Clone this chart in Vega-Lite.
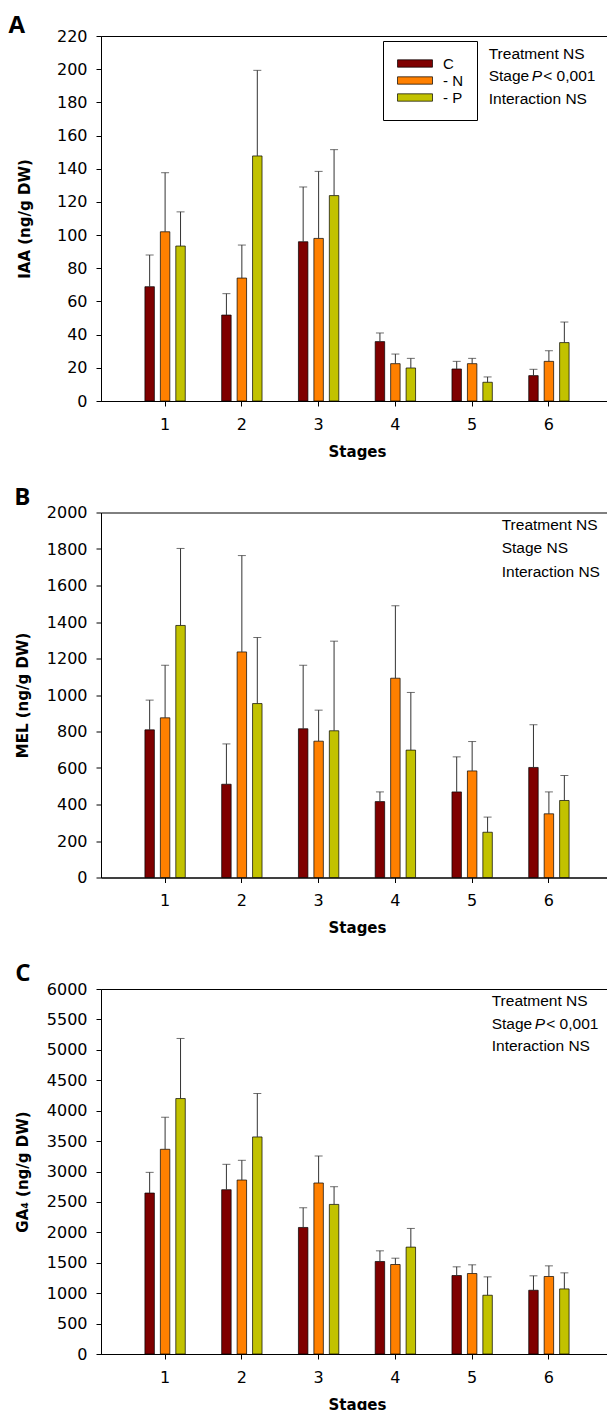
{
  "$schema": "https://vega.github.io/schema/vega-lite/v6.json",
  "background": "white",
  "padding": {"left": 7, "top": 13, "right": 0, "bottom": 0},
  "spacing": 24.5,
  "config": {
    "view": {"stroke": "black", "strokeWidth": 1},
    "axis": {
      "domainColor": "black", "tickColor": "black", "labelColor": "black", "titleColor": "black",
      "grid": false, "labelFont": "DejaVu Sans", "labelFontSize": 16, "labelOverlap": false, "labelFlush": false,
      "titleFont": "DejaVu Sans", "titleFontSize": 15, "titleFontWeight": "bold",
      "tickSize": 5, "labelPadding": 9, "domainWidth": 1, "tickWidth": 1
    },
    "axisX": {"labelAngle": 0, "labelPadding": 10, "titlePadding": 12},
    "title": {"font": "Open Sans", "fontSize": 24, "fontWeight": "bold", "color": "black", "anchor": "start", "frame": "bounds"}
  },
  "resolve": {"legend": {"color": "independent"}},
  "datasets": {
    "iaa": [
      {"stage": "1", "treatment": "C", "value": 68.9, "upper": 88},
      {"stage": "1", "treatment": "- N", "value": 102, "upper": 137.6},
      {"stage": "1", "treatment": "- P", "value": 93.4, "upper": 114},
      {"stage": "2", "treatment": "C", "value": 51.8, "upper": 64.7},
      {"stage": "2", "treatment": "- N", "value": 74.1, "upper": 94},
      {"stage": "2", "treatment": "- P", "value": 147.7, "upper": 199.3},
      {"stage": "3", "treatment": "C", "value": 96, "upper": 129},
      {"stage": "3", "treatment": "- N", "value": 98, "upper": 138.4},
      {"stage": "3", "treatment": "- P", "value": 123.8, "upper": 151.5},
      {"stage": "4", "treatment": "C", "value": 35.8, "upper": 41},
      {"stage": "4", "treatment": "- N", "value": 22.5, "upper": 28.3},
      {"stage": "4", "treatment": "- P", "value": 19.9, "upper": 25.7},
      {"stage": "5", "treatment": "C", "value": 19.3, "upper": 23.9},
      {"stage": "5", "treatment": "- N", "value": 22.5, "upper": 25.7},
      {"stage": "5", "treatment": "- P", "value": 11.3, "upper": 14.5},
      {"stage": "6", "treatment": "C", "value": 15.3, "upper": 19.1},
      {"stage": "6", "treatment": "- N", "value": 23.9, "upper": 30.3},
      {"stage": "6", "treatment": "- P", "value": 35.2, "upper": 47.6}
    ],
    "mel": [
      {"stage": "1", "treatment": "C", "value": 809, "upper": 972},
      {"stage": "1", "treatment": "- N", "value": 875, "upper": 1163},
      {"stage": "1", "treatment": "- P", "value": 1381, "upper": 1803},
      {"stage": "2", "treatment": "C", "value": 511, "upper": 732},
      {"stage": "2", "treatment": "- N", "value": 1236, "upper": 1764},
      {"stage": "2", "treatment": "- P", "value": 953, "upper": 1315},
      {"stage": "3", "treatment": "C", "value": 815, "upper": 1163},
      {"stage": "3", "treatment": "- N", "value": 747, "upper": 917},
      {"stage": "3", "treatment": "- P", "value": 804, "upper": 1295},
      {"stage": "4", "treatment": "C", "value": 416, "upper": 469},
      {"stage": "4", "treatment": "- N", "value": 1092, "upper": 1489},
      {"stage": "4", "treatment": "- P", "value": 698, "upper": 1014},
      {"stage": "5", "treatment": "C", "value": 469, "upper": 661},
      {"stage": "5", "treatment": "- N", "value": 584, "upper": 745},
      {"stage": "5", "treatment": "- P", "value": 248, "upper": 331},
      {"stage": "6", "treatment": "C", "value": 603, "upper": 837},
      {"stage": "6", "treatment": "- N", "value": 349, "upper": 469},
      {"stage": "6", "treatment": "- P", "value": 422, "upper": 559}
    ],
    "ga": [
      {"stage": "1", "treatment": "C", "value": 2646, "upper": 2986},
      {"stage": "1", "treatment": "- N", "value": 3365, "upper": 3892},
      {"stage": "1", "treatment": "- P", "value": 4199, "upper": 5187},
      {"stage": "2", "treatment": "C", "value": 2701, "upper": 3118},
      {"stage": "2", "treatment": "- N", "value": 2860, "upper": 3184},
      {"stage": "2", "treatment": "- P", "value": 3568, "upper": 4282},
      {"stage": "3", "treatment": "C", "value": 2080, "upper": 2404},
      {"stage": "3", "treatment": "- N", "value": 2811, "upper": 3255},
      {"stage": "3", "treatment": "- P", "value": 2459, "upper": 2750},
      {"stage": "4", "treatment": "C", "value": 1521, "upper": 1696},
      {"stage": "4", "treatment": "- N", "value": 1471, "upper": 1575},
      {"stage": "4", "treatment": "- P", "value": 1757, "upper": 2064},
      {"stage": "5", "treatment": "C", "value": 1290, "upper": 1433},
      {"stage": "5", "treatment": "- N", "value": 1323, "upper": 1466},
      {"stage": "5", "treatment": "- P", "value": 966, "upper": 1268},
      {"stage": "6", "treatment": "C", "value": 1048, "upper": 1285},
      {"stage": "6", "treatment": "- N", "value": 1274, "upper": 1449},
      {"stage": "6", "treatment": "- P", "value": 1070, "upper": 1334}
    ]
  },
  "vconcat": [
    {
      "width": 512, "height": 365,
      "title": {"text": "A", "dx": -9, "offset": -10},
      "resolve": {"scale": {"y": "independent"}},
      "layer": [
        {
          "data": {"name": "iaa"},
          "encoding": {
            "x": {"field": "stage", "type": "nominal", "scale": {"paddingInner": 0.396, "paddingOuter": 0.533}, "axis": {"title": "Stages"}},
            "xOffset": {"field": "treatment", "type": "nominal", "scale": {"domain": ["C", "- N", "- P"], "paddingInner": 0.387, "paddingOuter": 0.194}}
          },
          "layer": [
            {
              "mark": {"type": "bar", "stroke": "black", "strokeWidth": 0.7},
              "encoding": {
                "y": {"field": "value", "type": "quantitative", "scale": {"domain": [0, 220], "nice": false}, "axis": {"title": "IAA (ng/g DW)", "format": "d", "values": [0, 20, 40, 60, 80, 100, 120, 140, 160, 180, 200, 220], "labelOverlap": false, "titlePadding": 24}},
                "color": {"field": "treatment", "type": "nominal", "scale": {"domain": ["C", "- N", "- P"], "range": ["#7F0000", "#FF8000", "#C2C200"]},
                  "legend": {"title": null, "orient": "none", "legendX": 282, "legendY": 5, "strokeColor": "black", "fillColor": "white", "padding": 14,
                    "symbolType": "M-1,-0.21H1V0.21H-1Z", "symbolSize": 1225, "symbolStrokeColor": "black", "symbolStrokeWidth": 0.7, "symbolOpacity": 1,
                    "clipHeight": 17, "rowPadding": 0, "labelOffset": 10, "labelFont": "Liberation Sans", "labelFontSize": 15, "labelColor": "black"}}
              }
            },
            {
              "mark": {"type": "rule", "color": "#333333", "strokeWidth": 1},
              "encoding": {"y": {"field": "value", "type": "quantitative", "axis": {"values": [0, 20, 40, 60, 80, 100, 120, 140, 160, 180, 200, 220], "labelOverlap": false}}, "y2": {"field": "upper"}}
            },
            {
              "mark": {"type": "tick", "color": "#333333", "size": 8, "thickness": 1},
              "encoding": {"y": {"field": "upper", "type": "quantitative", "axis": {"values": [0, 20, 40, 60, 80, 100, 120, 140, 160, 180, 200, 220], "labelOverlap": false}}}
            }
          ]
        },
        {
          "encoding": {
            "x": {"datum": "6", "type": "nominal", "bandPosition": 0},
            "y": {"field": "line", "type": "ordinal", "scale": {"type": "point", "domain": ["1", "2", "3"], "range": [22.5, 67.5], "padding": 0}, "axis": null},
            "text": {"field": "t"}
          },
          "layer": [
            {
              "data": {"values": [{"line": "1", "t": "Treatment NS"}, {"line": "2", "t": "Stage"}, {"line": "3", "t": "Interaction NS"}]},
              "mark": {"type": "text", "align": "left", "baseline": "alphabetic", "font": "Liberation Sans", "fontSize": 15.5, "color": "black", "dx": -37}
            },
            {
              "data": {"values": [{"line": "2", "t": "P"}]},
              "mark": {"type": "text", "align": "left", "baseline": "alphabetic", "font": "Liberation Sans", "fontSize": 15.5, "fontStyle": "italic", "color": "black", "dx": 6}
            },
            {
              "data": {"values": [{"line": "2", "t": "< 0,001"}]},
              "mark": {"type": "text", "align": "left", "baseline": "alphabetic", "font": "Liberation Sans", "fontSize": 15.5, "color": "black", "dx": 17.5}
            }
          ]
        }
      ]
    },
    {
      "width": 512, "height": 365,
      "title": {"text": "B", "dx": -1, "offset": -5.3},
      "resolve": {"scale": {"y": "independent"}},
      "layer": [
        {
          "data": {"name": "mel"},
          "encoding": {
            "x": {"field": "stage", "type": "nominal", "scale": {"paddingInner": 0.396, "paddingOuter": 0.533}, "axis": {"title": "Stages"}},
            "xOffset": {"field": "treatment", "type": "nominal", "scale": {"domain": ["C", "- N", "- P"], "paddingInner": 0.387, "paddingOuter": 0.194}}
          },
          "layer": [
            {
              "mark": {"type": "bar", "stroke": "black", "strokeWidth": 0.7},
              "encoding": {
                "y": {"field": "value", "type": "quantitative", "scale": {"domain": [0, 2000], "nice": false}, "axis": {"title": "MEL (ng/g DW)", "format": "d", "values": [0, 200, 400, 600, 800, 1000, 1200, 1400, 1600, 1800, 2000], "labelOverlap": false, "titlePadding": 16}},
                "color": {"field": "treatment", "type": "nominal", "scale": {"domain": ["C", "- N", "- P"], "range": ["#7F0000", "#FF8000", "#C2C200"]}, "legend": null}
              }
            },
            {
              "mark": {"type": "rule", "color": "#333333", "strokeWidth": 1},
              "encoding": {"y": {"field": "value", "type": "quantitative", "axis": {"values": [0, 200, 400, 600, 800, 1000, 1200, 1400, 1600, 1800, 2000], "labelOverlap": false}}, "y2": {"field": "upper"}}
            },
            {
              "mark": {"type": "tick", "color": "#333333", "size": 8, "thickness": 1},
              "encoding": {"y": {"field": "upper", "type": "quantitative", "axis": {"values": [0, 200, 400, 600, 800, 1000, 1200, 1400, 1600, 1800, 2000], "labelOverlap": false}}}
            }
          ]
        },
        {
          "data": {"values": [{"line": "1", "t": "Treatment NS"}, {"line": "2", "t": "Stage NS"}, {"line": "3", "t": "Interaction NS"}]},
          "mark": {"type": "text", "align": "left", "baseline": "alphabetic", "font": "Liberation Sans", "fontSize": 15.5, "color": "black", "dx": -24},
          "encoding": {
            "x": {"datum": "6", "type": "nominal", "bandPosition": 0},
            "y": {"field": "line", "type": "ordinal", "scale": {"type": "point", "domain": ["1", "2", "3"], "range": [17.5, 64], "padding": 0}, "axis": null},
            "text": {"field": "t"}
          }
        }
      ]
    },
    {
      "width": 512, "height": 365,
      "title": {"text": "C", "dx": 0, "offset": -5.3},
      "resolve": {"scale": {"y": "independent"}},
      "layer": [
        {
          "data": {"name": "ga"},
          "encoding": {
            "x": {"field": "stage", "type": "nominal", "scale": {"paddingInner": 0.396, "paddingOuter": 0.533}, "axis": {"title": "Stages"}},
            "xOffset": {"field": "treatment", "type": "nominal", "scale": {"domain": ["C", "- N", "- P"], "paddingInner": 0.387, "paddingOuter": 0.194}}
          },
          "layer": [
            {
              "mark": {"type": "bar", "stroke": "black", "strokeWidth": 0.7},
              "encoding": {
                "y": {"field": "value", "type": "quantitative", "scale": {"domain": [0, 6000], "nice": false}, "axis": {"title": "GA₄ (ng/g DW)", "format": "d", "values": [0, 500, 1000, 1500, 2000, 2500, 3000, 3500, 4000, 4500, 5000, 5500, 6000], "labelOverlap": false, "titlePadding": 16}},
                "color": {"field": "treatment", "type": "nominal", "scale": {"domain": ["C", "- N", "- P"], "range": ["#7F0000", "#FF8000", "#C2C200"]}, "legend": null}
              }
            },
            {
              "mark": {"type": "rule", "color": "#333333", "strokeWidth": 1},
              "encoding": {"y": {"field": "value", "type": "quantitative", "axis": {"values": [0, 500, 1000, 1500, 2000, 2500, 3000, 3500, 4000, 4500, 5000, 5500, 6000], "labelOverlap": false}}, "y2": {"field": "upper"}}
            },
            {
              "mark": {"type": "tick", "color": "#333333", "size": 8, "thickness": 1},
              "encoding": {"y": {"field": "upper", "type": "quantitative", "axis": {"values": [0, 500, 1000, 1500, 2000, 2500, 3000, 3500, 4000, 4500, 5000, 5500, 6000], "labelOverlap": false}}}
            }
          ]
        },
        {
          "encoding": {
            "x": {"datum": "6", "type": "nominal", "bandPosition": 0},
            "y": {"field": "line", "type": "ordinal", "scale": {"type": "point", "domain": ["1", "2", "3"], "range": [17, 62], "padding": 0}, "axis": null},
            "text": {"field": "t"}
          },
          "layer": [
            {
              "data": {"values": [{"line": "1", "t": "Treatment NS"}, {"line": "2", "t": "Stage"}, {"line": "3", "t": "Interaction NS"}]},
              "mark": {"type": "text", "align": "left", "baseline": "alphabetic", "font": "Liberation Sans", "fontSize": 15.5, "color": "black", "dx": -34}
            },
            {
              "data": {"values": [{"line": "2", "t": "P"}]},
              "mark": {"type": "text", "align": "left", "baseline": "alphabetic", "font": "Liberation Sans", "fontSize": 15.5, "fontStyle": "italic", "color": "black", "dx": 9}
            },
            {
              "data": {"values": [{"line": "2", "t": "< 0,001"}]},
              "mark": {"type": "text", "align": "left", "baseline": "alphabetic", "font": "Liberation Sans", "fontSize": 15.5, "color": "black", "dx": 20.5}
            }
          ]
        }
      ]
    }
  ]
}
